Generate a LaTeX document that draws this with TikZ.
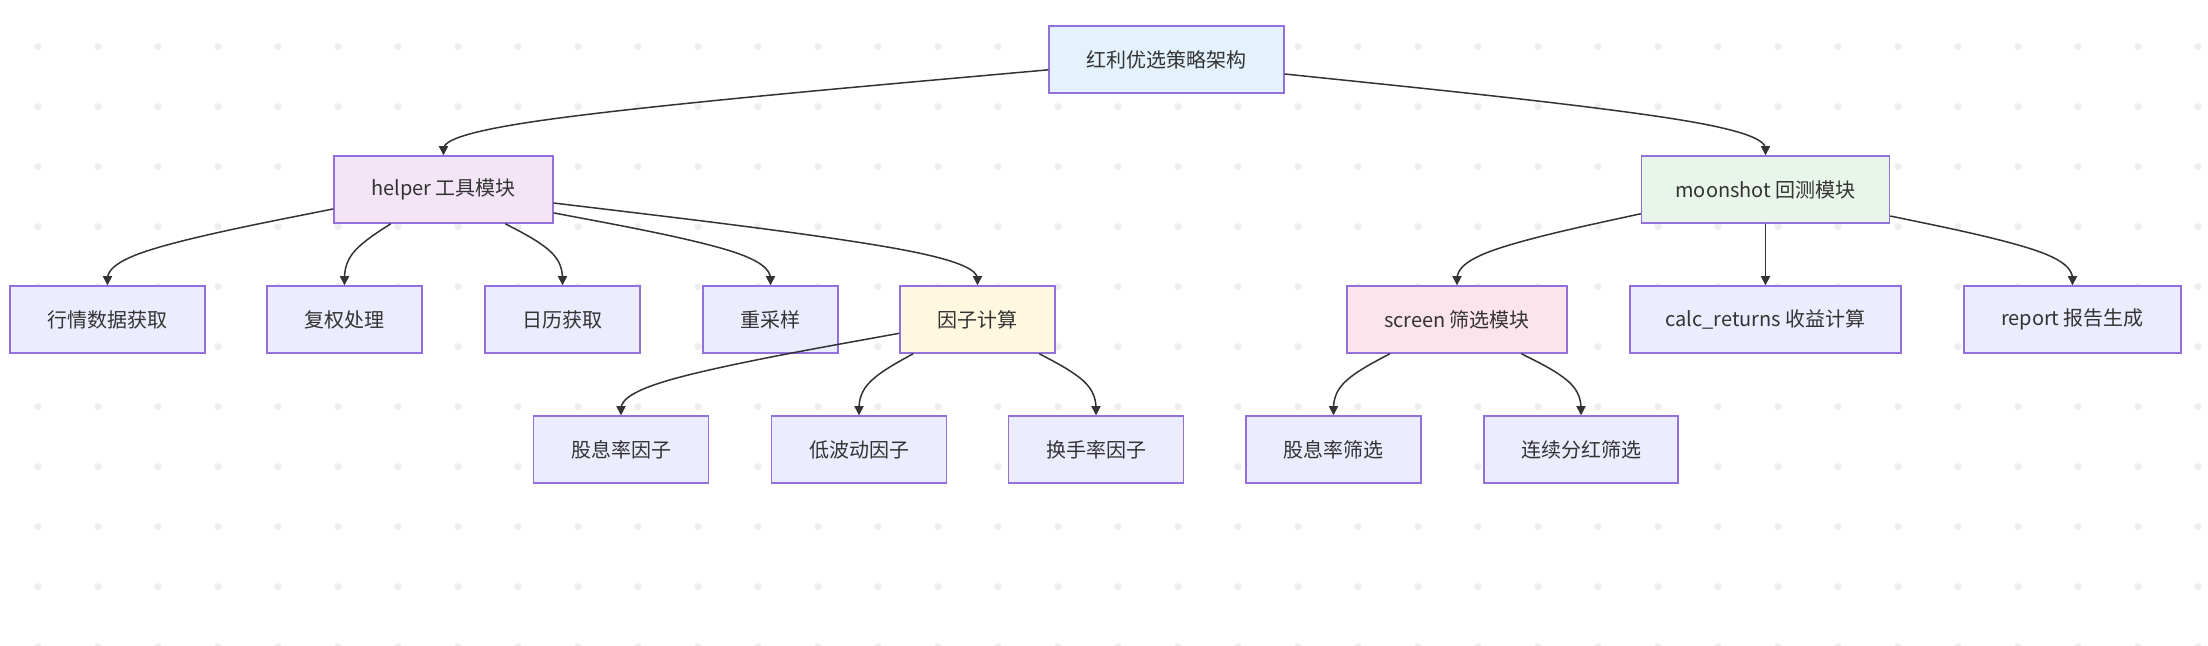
\documentclass[tikz,border=0pt]{standalone}
\usepackage{fontspec}
\setmainfont{Noto Sans CJK SC}
\usetikzlibrary{arrows.meta,calc}
\definecolor{edgec}{HTML}{333333}
\definecolor{textc}{HTML}{333333}
\definecolor{boxstroke}{HTML}{9370DB}
\definecolor{boxfill}{HTML}{ECECFF}
\definecolor{rootfill}{HTML}{E3F2FD}
\definecolor{helperfill}{HTML}{F3E5F5}
\definecolor{moonfill}{HTML}{E8F5E9}
\definecolor{factorfill}{HTML}{FFF8E1}
\definecolor{screenfill}{HTML}{FCE4EC}
\definecolor{dotc}{HTML}{EEEEEE}
\tikzset{
  box/.style={draw=boxstroke, line width=0.7pt, fill=boxfill, minimum height=33.5pt,
    inner sep=0pt, text=textc, font=\fontsize{10pt}{12pt}\selectfont},
  conn/.style={draw=edgec, line width=0.75pt, -{Triangle[length=4.6pt,width=4.6pt]}},
  bgdot/.style={fill=dotc, draw=none},
}
\newcommand{\mmdedge}[2]{%
  \pgfmathanglebetweenpoints{\pgfpointanchor{#1}{center}}{\pgfpointadd{\pgfpointanchor{#2}{north}}{\pgfpoint{0pt}{15.75pt}}}%
  \edef\mmdang{\pgfmathresult}%
  \coordinate (mmdD) at ($(#2.north)+(0,-31.5)$);
  \coordinate (mmdS) at (#1.\mmdang);
  \draw[conn] (mmdS) -- ($(mmdS)!0.1666667!(mmdD)$)
    .. controls ($(mmdS)!0.3333333!(mmdD)$) and ($(mmdS)!0.6666667!(mmdD)$)
    .. ($0.1666667*(mmdS)+0.6666667*(mmdD)+0.1666667*(#2.north)$)
    .. controls ($(mmdD)!0.3333333!(#2.north)$) and ($(mmdD)!0.6666667!(#2.north)$)
    .. ($(mmdD)!0.8333333!(#2.north)$) -- (#2.north);
}
\begin{document}
\begin{tikzpicture}[x=0.5pt,y=-0.5pt]
\useasboundingbox (0,0) rectangle (2208,646);
\fill[white] (0,0) rectangle (2208,646);
% background dots
\foreach \i in {0,...,36}{
  \foreach \j in {0,...,10}{
    \fill[bgdot] ({38+60*\i},{46.7+60*\j}) circle (3.6);
  }
}
% level 0
\node[box, fill=rootfill, minimum width=117.5pt] (root) at (1166.5,59.5) {红利优选策略架构};
% level 1
\node[box, fill=helperfill, minimum width=109.5pt] (helper) at (443.5,189.5) {helper 工具模块};
\node[box, fill=moonfill, minimum width=124pt] (moon) at (1765.5,189.5) {moonshot 回测模块};
% level 2
\node[box, minimum width=97.5pt] (hq) at (107.5,319.5) {行情数据获取};
\node[box, minimum width=77.5pt] (fq) at (344.5,319.5) {复权处理};
\node[box, minimum width=77.5pt] (rl) at (562.5,319.5) {日历获取};
\node[box, minimum width=67.5pt] (cy) at (770.5,319.5) {重采样};
\node[box, fill=factorfill, minimum width=77.5pt] (yz) at (977.5,319.5) {因子计算};
\node[box, fill=screenfill, minimum width=110pt] (screen) at (1457,319.5) {screen 筛选模块};
\node[box, minimum width=135.5pt] (calc) at (1765.5,319.5) {calc\_returns 收益计算};
\node[box, minimum width=108.5pt] (report) at (2072.5,319.5) {report 报告生成};
% level 3
\node[box, minimum width=87.5pt] (gx) at (621,449.5) {股息率因子};
\node[box, minimum width=87.5pt] (dbd) at (859,449.5) {低波动因子};
\node[box, minimum width=87.5pt] (hs) at (1096,449.5) {换手率因子};
\node[box, minimum width=87.5pt] (gxs) at (1333.5,449.5) {股息率筛选};
\node[box, minimum width=97pt] (lx) at (1581,449.5) {连续分红筛选};
% edges
\mmdedge{root}{helper}
\mmdedge{root}{moon}
\mmdedge{helper}{hq}
\mmdedge{helper}{fq}
\mmdedge{helper}{rl}
\mmdedge{helper}{cy}
\mmdedge{helper}{yz}
\mmdedge{yz}{gx}
\mmdedge{yz}{dbd}
\mmdedge{yz}{hs}
\mmdedge{moon}{screen}
\draw[conn] (moon) -- (calc);
\mmdedge{moon}{report}
\mmdedge{screen}{gxs}
\mmdedge{screen}{lx}
\end{tikzpicture}
\end{document}
